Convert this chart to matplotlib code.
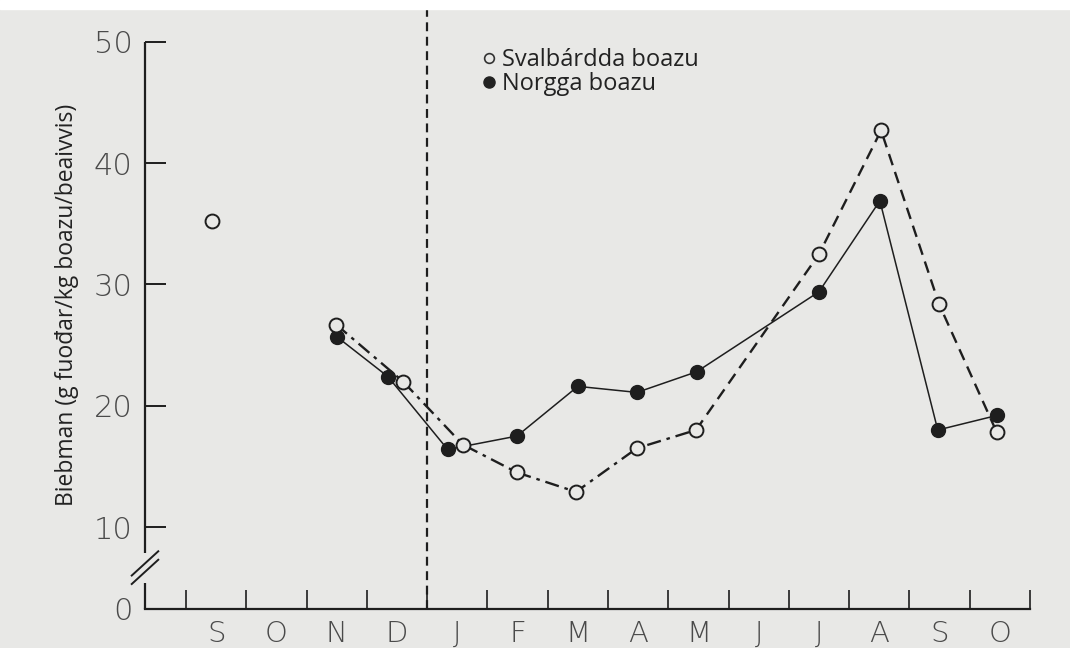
import matplotlib.pyplot as plt
from matplotlib.lines import Line2D
from matplotlib.patches import Rectangle

# month labels (Sept -> Oct next year), placed at month midpoints
months = ['S', 'O', 'N', 'D', 'J', 'F', 'M', 'A', 'M', 'J', 'J', 'A', 'S', 'O']

# Svalbard reindeer (open circles); first point (Sept) is not joined to the line
sval_x = [0.43, 2.49, 3.60, 4.59, 5.49, 6.47, 7.48, 8.46, 10.50, 11.53, 12.49, 13.45]
sval_y = [35.2, 26.7, 22.0, 16.8, 14.5, 12.9, 16.5, 18.0, 32.5, 42.7, 28.4, 17.8]

# Norwegian reindeer (filled circles)
norw_x = [2.50, 3.35, 4.34, 5.49, 6.50, 7.48, 8.47, 10.50, 11.51, 12.47, 13.45]
norw_y = [25.7, 22.4, 16.4, 17.5, 21.6, 21.1, 22.8, 29.4, 36.9, 18.0, 19.2]

yticks = [10, 20, 30, 40, 50]

bg = '#e8e8e6'
ink = '#1e1e1e'
tick_col = '#4a4a4a'

plt.rcParams['font.family'] = ['Open Sans', 'DejaVu Sans']

fig = plt.figure(figsize=(10.7, 6.48), dpi=100, facecolor=bg)
ax = fig.add_axes([145 / 1070, 1 - 609 / 648, (1030 - 145) / 1070, (609 - 8) / 648])
ax.set_facecolor(bg)

xmin, xmax = -0.68, 14.0
ybot, ytop = 3.24, 52.8
ax.set_xlim(xmin, xmax)
ax.set_ylim(ybot, ytop)

# lines
ax.plot(norw_x, norw_y, color=ink, lw=1.1, zorder=2)
ax.plot(sval_x[1:8], sval_y[1:8], color=ink, lw=1.7, ls=(0, (6, 2.5, 1.5, 2.5)), zorder=2)
ax.plot(sval_x[7:], sval_y[7:], color=ink, lw=1.7, ls=(0, (5, 3)), zorder=2)

# markers
ax.plot(norw_x, norw_y, ls='none', marker='o', ms=10, mfc=ink, mec=ink, zorder=4)
ax.plot(sval_x, sval_y, ls='none', marker='o', ms=10, mfc=bg, mec=ink, mew=1.4, zorder=4)

# vertical dashed line at new year
ax.axvline(4, color=ink, lw=1.6, ls=(0, (4, 2.5)), zorder=1)

# spines
for s in ['top', 'right', 'left']:
    ax.spines[s].set_visible(False)
ax.spines['bottom'].set_linewidth(1.6)
ax.spines['bottom'].set_color(ink)

# left axis with a break
ax.plot([xmin, xmin], [ybot, 5.4], color=ink, lw=1.6, clip_on=False, solid_capstyle='butt')
ax.plot([xmin, xmin], [7.85, 50], color=ink, lw=1.6, clip_on=False, solid_capstyle='butt')
ax.plot([-0.9, -0.46], [5.3, 7.3], color=ink, lw=1.4, clip_on=False)
ax.plot([-0.9, -0.46], [6.0, 8.0], color=ink, lw=1.4, clip_on=False)

# x ticks at month boundaries, labels at midpoints
ax.set_xticks(range(15))
ax.set_xticklabels([])
ax.set_xticks([i + 0.5 for i in range(len(months))], minor=True)
ax.set_xticklabels(months, minor=True)
ax.tick_params(axis='x', which='major', direction='in', length=14, width=1.2, color=ink)
ax.tick_params(axis='x', which='minor', length=0, pad=8, labelsize=21, labelcolor=tick_col)

ax.set_yticks([ybot] + yticks)
ax.set_yticklabels(['0'] + [str(v) for v in yticks])
ax.tick_params(axis='y', direction='in', length=15, width=1.4, color=ink, pad=9,
               labelsize=22, labelcolor=tick_col)
ax.yaxis.get_major_ticks()[0].tick1line.set_visible(False)
for lab in ax.get_xticklabels(minor=True) + ax.get_yticklabels():
    lab.set_fontfamily(['DejaVu Sans'])
    lab.set_fontweight('light')

fig.text(67 / 1070, 1 - 305 / 648, 'Biebman (g fuođar/kg boazu/beaivvis)',
         rotation=90, ha='center', va='center', fontsize=16.5, color='#222222')

handles = [
    Line2D([], [], ls='none', marker='o', ms=7, mfc=bg, mec='#333333', mew=1.2),
    Line2D([], [], ls='none', marker='o', ms=8, mfc='#222222', mec='#222222'),
]
ax.legend(handles, ['Svalbárdda boazu', 'Norgga boazu'], loc='upper left',
          bbox_to_anchor=(470 / 1070, 1 - 36 / 648), bbox_transform=fig.transFigure,
          frameon=False, fontsize=17, handlelength=0.6, handletextpad=0.25,
          labelspacing=0.0, borderpad=0, labelcolor='#222222')

fig.patches.append(Rectangle((0, 1 - 9 / 648), 1, 9 / 648, transform=fig.transFigure,
                             color='white', zorder=10))

fig.savefig('out.png', dpi=100, facecolor=bg)
